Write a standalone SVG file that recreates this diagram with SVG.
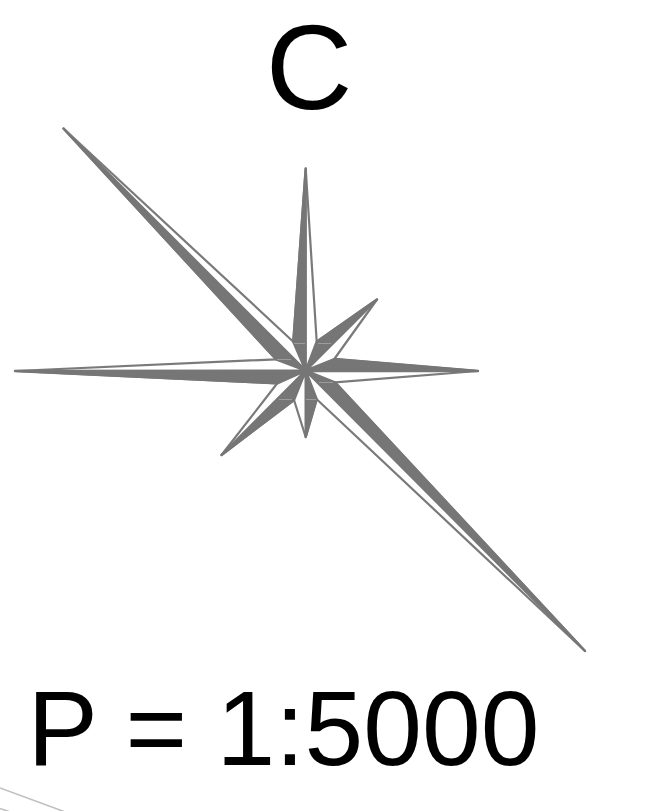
<svg xmlns="http://www.w3.org/2000/svg" width="651" height="811" viewBox="0 0 651 811">
<style>
.t{font-family:"Liberation Sans",Arial,sans-serif;fill:#000;text-anchor:middle}
.o{fill:#fff;stroke:#7a7a7a;stroke-width:2.2;stroke-linejoin:round}
.f{fill:#767676;stroke:#767676;stroke-width:2.4;stroke-linejoin:round}
.s{stroke:#9c9c9c;stroke-width:1;fill:none}
.g{stroke:#c0c0c0;stroke-width:1.6;fill:none}
</style>
<rect width="651" height="811" fill="#fff"/>
<text id="label-c" class="t" x="309" y="109" font-size="120">C</text>
<g id="compass">
<path class="o" d="M305.7 168.5L316.7 341.7L377 299.5L334.3 359L478 371L335 382.3L585 651L316.7 399.3L305.7 437L294 400L221.5 455L277.3 383.3L15 371L276 359.3L63.5 128.5L293.3 341.7Z"/>
<path class="f" d="M305.7 168.5L293.3 341.7L305.7 370.7ZM377 299.5L316.7 341.7L305.7 370.7ZM478 371L334.3 359L305.7 370.7ZM585 651L335 382.3L305.7 370.7ZM305.7 437L316.7 399.3L305.7 370.7ZM221.5 455L294 400L305.7 370.7ZM15 371L277.3 383.3L305.7 370.7ZM63.5 128.5L276 359.3L305.7 370.7Z"/>
<path class="s" d="M294 343.5H305M318 343.5H331M277 359.5H291M319 382.5H333M279 399.5H292M306 399.5H316"/>
</g>
<text id="label-scale" class="t" x="283.5" y="765" font-size="105.6">P = 1:5000</text>
<g id="corner-lines">
<path class="g" d="M0 788L64 811.5M0 808.5L9 811.5"/>
</g>
</svg>
